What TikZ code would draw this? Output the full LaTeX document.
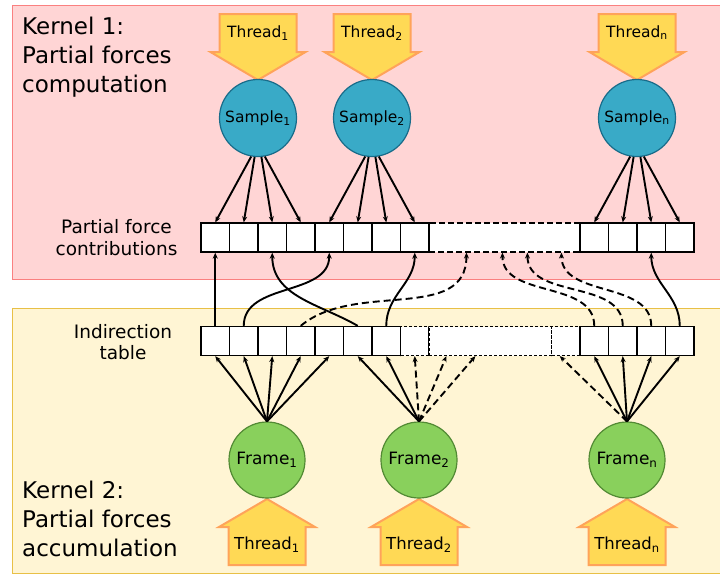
\documentclass[tikz,border=0pt]{standalone}
\usepackage{fontspec}
\setmainfont{DejaVu Sans}
\usetikzlibrary{arrows.meta}

\definecolor{kernelonebg}{RGB}{255,213,213}
\definecolor{kerneloneline}{RGB}{250,128,128}
\definecolor{kerneltwobg}{RGB}{255,245,212}
\definecolor{kerneltwoline}{RGB}{232,192,70}
\definecolor{threadfill}{RGB}{255,217,85}
\definecolor{threadline}{RGB}{255,163,90}
\definecolor{samplefill}{RGB}{57,170,199}
\definecolor{sampleline}{RGB}{25,108,138}
\definecolor{framefill}{RGB}{137,208,92}
\definecolor{frameline}{RGB}{82,138,52}

\begin{document}
\begin{tikzpicture}[x=1pt,y=1pt,
    cell/.style={shape=rectangle,draw=black,fill=white,line width=1.3pt,minimum width=28.5pt,minimum height=29pt,inner sep=0pt},
    gapcell/.style={cell,line width=1.1pt,dash pattern=on 6pt off 3pt},
    dotcell/.style={cell,line width=1.1pt,dash pattern=on 3pt off 2pt},
    sample/.style={shape=circle,draw=sampleline,fill=samplefill,line width=1.2pt,minimum size=77pt,inner sep=0pt,font=\fontsize{15.5}{18}\selectfont},
    framenode/.style={shape=circle,draw=frameline,fill=framefill,line width=1.2pt,minimum size=76pt,inner sep=0pt,font=\fontsize{17}{20}\selectfont},
    thread/.style={draw=threadline,fill=threadfill,line width=2pt},
    threadlabel/.style={inner sep=0pt,font=\fontsize{15.5}{18}\selectfont},
    sidelabel/.style={align=center,inner sep=0pt,font=\fontsize{18.5}{21.5}\selectfont},
    kernellabel/.style={anchor=north west,align=left,inner sep=0pt,font=\fontsize{23}{29.3}\selectfont},
    link/.style={line width=1.9pt,-{Stealth[length=6pt,width=5pt]}},
    dlink/.style={link,dash pattern=on 7pt off 4pt}]

    \useasboundingbox (0,0) rectangle (720,-576);

    % kernel areas
    \draw[kerneloneline,fill=kernelonebg,line width=1pt] (12,-5) rectangle (722,-279);
    \draw[kerneltwoline,fill=kerneltwobg,line width=1pt] (12,-308) rectangle (722,-573);

    \node[kernellabel] (k1) at (22,-16.5) {Kernel 1:\\Partial forces\\computation};
    \node[kernellabel] (k2) at (22,-480.5) {Kernel 2:\\Partial forces\\accumulation};
    \node[sidelabel] (pfc) at (116.5,-237.5) {Partial force\\contributions};
    \node[sidelabel] (ind) at (123,-342) {Indirection\\table};

    % threads of kernel 1
    \foreach \x/\n in {258/1, 372/2, 637/n} {
        \draw[thread] ({\x-38.5},-14) -- ({\x+38.5},-14) -- ({\x+38.5},-52) -- ({\x+47.5},-52)
            -- (\x,-80) -- ({\x-47.5},-52) -- ({\x-38.5},-52) -- cycle;
        \node[threadlabel] (t\n) at (\x,-33) {Thread\textsubscript{\n}};
    }

    \node[sample] (s1) at (258,-118) {Sample\textsubscript{1}};
    \node[sample] (s2) at (372,-118) {Sample\textsubscript{2}};
    \node[sample] (sn) at (637,-118) {Sample\textsubscript{n}};

    % partial force contributions
    \node[gapcell,minimum width=151pt] (pgap) at (504.5,-237.5) {};
    \foreach \i in {1,...,8}
        \node[cell] (p\i) at ({215.25+28.5*(\i-1)},-237.5) {};
    \foreach \i in {1,...,4}
        \node[cell] (q\i) at ({594.25+28.5*(\i-1)},-237.5) {};

    % indirection table
    \node[dotcell] (dl1) at (414.75,-341) {};
    \node[dotcell,minimum width=122.5pt] (dgap) at (490.25,-341) {};
    \node[dotcell] (dl2) at (565.75,-341) {};
    \foreach \i in {1,...,7}
        \node[cell] (i\i) at ({215.25+28.5*(\i-1)},-341) {};
    \foreach \i in {1,...,4}
        \node[cell] (j\i) at ({594.25+28.5*(\i-1)},-341) {};

    % threads of kernel 2
    \foreach \x/\n in {267/1, 419/2, 627/n} {
        \draw[thread] ({\x-38.5},-565) -- ({\x+38.5},-565) -- ({\x+38.5},-527) -- ({\x+48},-527)
            -- (\x,-499) -- ({\x-48},-527) -- ({\x-38.5},-527) -- cycle;
        \node[threadlabel,font=\fontsize{16.5}{19}\selectfont] (u\n) at (\x,-545) {Thread\textsubscript{\n}};
    }

    \node[framenode] (f1) at (267,-460) {Frame\textsubscript{1}};
    \node[framenode] (f2) at (419,-460) {Frame\textsubscript{2}};
    \node[framenode] (fn) at (627,-460) {Frame\textsubscript{n}};

    % samples write contributions
    \foreach \a/\c in {-100/1,-95/2,-85/3,-80/4}
        \draw[link] (s1.\a) -- (p\c.north);
    \foreach \a/\c in {-100/5,-95/6,-85/7,-80/8}
        \draw[link] (s2.\a) -- (p\c.north);
    \foreach \a/\c in {-100/1,-95/2,-85/3,-80/4}
        \draw[link] (sn.\a) -- (q\c.north);

    % frames read the indirection table
    \foreach \c in {1,...,5}
        \draw[link] (f1.north) -- (i\c.south);
    \draw[link] (f2.north) -- (i6.south);
    \draw[link] (f2.north) -- (i7.south);
    \draw[dlink] (f2.north) -- (dl1.south);
    \draw[dlink] (f2.north) -- ([xshift=18pt]dgap.south west);
    \draw[dlink] (f2.north) -- ([xshift=47pt]dgap.south west);
    \draw[dlink] (fn.north) -- ([xshift=-6pt]dl2.south);
    \foreach \c in {1,...,4}
        \draw[link] (fn.north) -- (j\c.south);

    % indirection
    \draw[link] (i1.north) -- (p1.south);
    \draw[link] (i2.north) to[out=90,in=-90] (p5.south);
    \draw[link] (i6.north) to[out=150,in=-90] (p3.south);
    \draw[link] (i7.north) to[out=90,in=-90] (p8.south);
    \draw[link] (j4.north) to[out=90,in=-90] (q3.south);
    \draw[dlink] (i4.north) to[out=40,in=-90] ([xshift=38pt]pgap.south west);
    \draw[dlink] (j1.north) to[out=90,in=-90] ([xshift=74pt]pgap.south west);
    \draw[dlink] (j2.north) to[out=90,in=-90] ([xshift=99pt]pgap.south west);
    \draw[dlink] (j3.north) to[out=90,in=-90] ([xshift=133pt]pgap.south west);
\end{tikzpicture}
\end{document}
